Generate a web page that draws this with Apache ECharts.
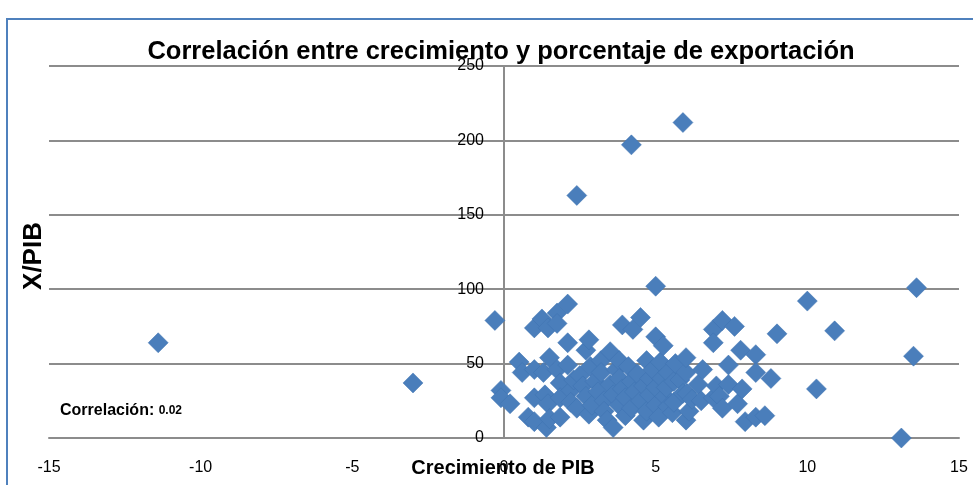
<!DOCTYPE html>
<html>
<head>
<meta charset="utf-8">
<script src="https://cdn.jsdelivr.net/npm/echarts@6/dist/echarts.min.js"></script>
<style>
  html, body { margin: 0; padding: 0; background: #fff; }
  #chart { width: 973px; height: 485px; }
</style>
</head>
<body>
<div id="chart"></div>
<script>
// crecimiento del PIB (eje x) y exportaciones / PIB (eje y)
const crecimiento = [
  -11.4, -3.0, -0.3, -0.1, -0.1, 0.2, 0.5, 0.6, 0.8, 1.0,
  1.0, 1.0, 1.0, 1.25, 1.3, 1.35, 1.45, 1.45, 1.4, 1.5,
  1.5, 1.75, 1.75, 1.75, 1.85, 1.85, 1.85, 2.1, 2.1, 2.1,
  2.2, 2.3, 2.2, 2.4, 2.4, 2.5, 2.6, 2.7, 2.8, 2.7,
  2.8, 2.85, 2.9, 3.0, 3.1, 3.2, 3.2, 3.3, 3.3, 3.4,
  3.5, 3.5, 3.6, 3.6, 3.7, 3.8, 3.8, 3.8, 3.9, 3.9,
  4.0, 4.0, 4.1, 4.2, 4.25, 4.2, 4.2, 4.3, 4.4, 4.5,
  4.5, 4.6, 4.6, 4.7, 4.7, 4.8, 4.8, 4.9, 5.0, 5.0,
  5.0, 5.0, 5.1, 5.15, 5.2, 5.25, 5.3, 5.35, 5.4, 5.4,
  5.55, 5.6, 5.6, 5.65, 5.8, 5.9, 5.9, 6.0, 6.0, 6.0,
  6.03, 6.1, 6.2, 6.4, 6.5, 6.55, 6.9, 6.9, 6.9, 7.0,
  7.1, 7.2, 7.2, 7.4, 7.4, 7.6, 7.7, 7.8, 7.85, 7.95,
  8.3, 8.3, 8.3, 8.6, 8.8, 9.0, 10.0, 10.3, 10.9, 13.1,
  13.5, 13.6
];
const xPib = [
  64, 37, 79, 32, 27, 23, 51, 44, 14, 11,
  27, 46, 74, 80, 44, 29, 74, 23, 7, 13,
  54, 84, 77, 46, 37, 27, 14, 90, 64, 49,
  32, 39, 24, 163, 20, 42, 35, 59, 66, 28,
  16, 48, 22, 38, 31, 52, 44, 25, 18, 12,
  58, 36, 29, 7, 46, 52, 40, 22, 76, 33,
  15, 27, 48, 197, 73, 38, 20, 31, 43, 81,
  25, 12, 35, 52, 18, 40, 29, 46, 102, 68,
  22, 34, 14, 51, 40, 62, 28, 34, 44, 21,
  17, 38, 24, 50, 39, 212, 30, 44, 54, 12,
  30, 18, 26, 36, 25, 46, 73, 64, 27, 35,
  28, 79, 20, 49, 36, 75, 23, 59, 33, 11,
  56, 44, 14, 15, 40, 70, 92, 33, 72, 0,
  55, 101
];
const xTicks = { min: -15, max: 15, step: 5 };
const yTicks = { min: 0, max: 250, step: 50 };
const correlacion = '0.02';

const puntos = crecimiento.map((x, i) => [x, xPib[i]]);

const chart = echarts.init(document.getElementById('chart'));
const gris = '#8c8c8c';
const fuente = 'Liberation Sans';

// el eje y cruza en x = 0: se desplaza desde el borde izquierdo de la rejilla
const gridLeft = 49, gridRight = 14, ancho = 973;
const anchoPlot = ancho - gridLeft - gridRight;
const desplazamientoY = -anchoPlot * (0 - xTicks.min) / (xTicks.max - xTicks.min);

const option = {
  backgroundColor: '#fff',
  animation: false,
  title: {
    text: 'Correlación entre crecimiento y porcentaje de exportación',
    left: 496,
    textAlign: 'center',
    top: 34,
    textStyle: { fontFamily: fuente, fontWeight: 'bold', fontSize: 25.5, color: '#000' },
  },
  grid: { left: gridLeft, right: gridRight, top: 66, bottom: 47 },
  xAxis: {
    type: 'value',
    min: xTicks.min,
    max: xTicks.max,
    interval: xTicks.step,
    axisLine: { show: true, lineStyle: { color: gris, width: 2 } },
    axisTick: { show: false },
    splitLine: { show: false },
    axisLabel: { color: '#000', fontFamily: fuente, fontSize: 16, margin: 22 },
  },
  yAxis: {
    type: 'value',
    min: yTicks.min,
    max: yTicks.max,
    interval: yTicks.step,
    position: 'left',
    offset: desplazamientoY,
    axisLine: { show: true, onZero: false, lineStyle: { color: gris, width: 2 } },
    axisTick: { show: false },
    splitLine: { show: true, lineStyle: { color: gris, width: 2 } },
    axisLabel: { color: '#000', fontFamily: fuente, fontSize: 16, margin: 20 },
  },
  graphic: [
    {
      type: 'rect',
      shape: { x: 7, y: 19, width: 1000, height: 500 },
      style: { fill: 'none', stroke: '#4f81bd', lineWidth: 2 },
      silent: true,
    },
    {
      type: 'text',
      x: 503,
      y: 468,
      style: {
        text: 'Crecimiento de PIB',
        fontFamily: fuente, fontWeight: 'bold', fontSize: 20, fill: '#000',
        align: 'center', verticalAlign: 'middle',
      },
      z: 10,
    },
    {
      type: 'text',
      x: 34,
      y: 256,
      rotation: Math.PI / 2,
      style: {
        text: 'X/PIB',
        fontFamily: fuente, fontWeight: 'bold', fontSize: 26, fill: '#000',
        align: 'center', verticalAlign: 'middle',
      },
    },
    {
      type: 'text',
      x: 60,
      y: 411,
      style: {
        text: '{a|Correlación: }{b|' + correlacion + '}',
        verticalAlign: 'middle',
        rich: {
          a: { fontFamily: fuente, fontWeight: 'bold', fontSize: 16, fill: '#000' },
          b: { fontFamily: fuente, fontWeight: 'bold', fontSize: 12, fill: '#000' },
        },
      },
      z: 10,
    },
  ],
  series: [
    {
      type: 'scatter',
      data: puntos,
      symbol: 'diamond',
      symbolSize: 20,
      itemStyle: { color: '#4a7ebb', borderColor: '#3f73b0', borderWidth: 0.5, opacity: 1 },
    },
  ],
};

chart.setOption(option);
</script>
</body>
</html>
